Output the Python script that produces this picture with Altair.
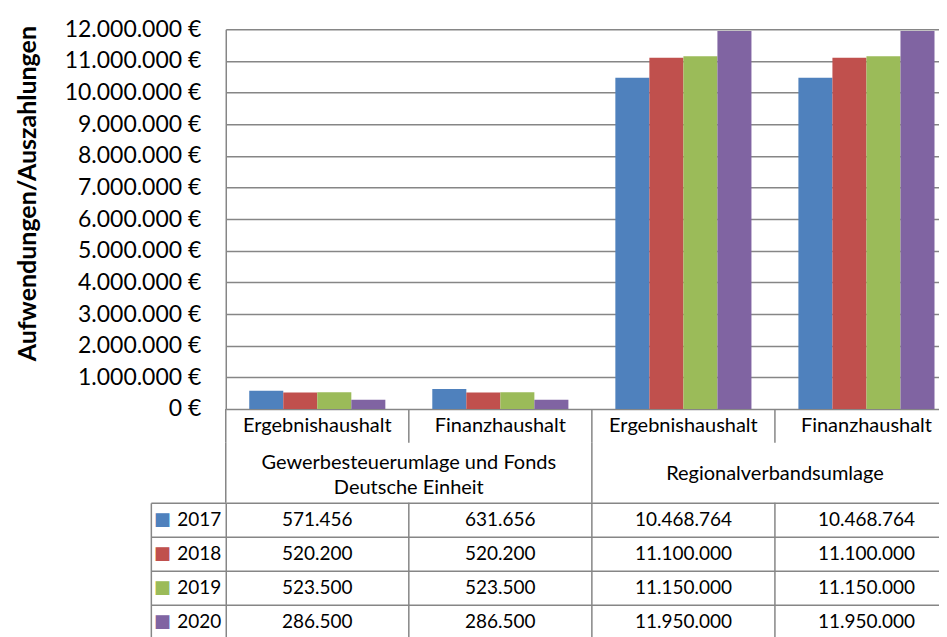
import altair as alt
import pandas as pd

# ---- data ----
col_ids = ["c1", "c2", "c3", "c4"]
col_names = ["Ergebnishaushalt", "Finanzhaushalt", "Ergebnishaushalt", "Finanzhaushalt"]
group_first_col = ["c1", "c3"]
group_names = ["Gewerbesteuerumlage und Fonds\nDeutsche Einheit", "Regionalverbandsumlage"]
years = ["2017", "2018", "2019", "2020"]
v2017 = [571456, 631656, 10468764, 10468764]
v2018 = [520200, 520200, 11100000, 11100000]
v2019 = [523500, 523500, 11150000, 11150000]
v2020 = [286500, 286500, 11950000, 11950000]
colors = ["#4F81BD", "#C0504D", "#9BBB59", "#8064A2"]
y_ticks = [0, 1000000, 2000000, 3000000, 4000000, 5000000, 6000000,
           7000000, 8000000, 9000000, 10000000, 11000000, 12000000]

series = {"2017": v2017, "2018": v2018, "2019": v2019, "2020": v2020}
rows = []
for y in years:
    for c, v in zip(col_ids, series[y]):
        rows.append({"col": c, "year": y, "value": v,
                     "label": f"{v:,}".replace(",", ".")})
df = pd.DataFrame(rows)
labels_df = pd.DataFrame({"col": col_ids, "name": col_names})
grp_df = pd.DataFrame({"col": group_first_col, "name": group_names})
inner_df = pd.DataFrame({"col": col_ids[1:]})

GRID = "#868686"
FONT = "Lato"
W = 713          # visible plot width (page is cut at the right like the original)
FULL = 733       # full width of the four columns
LW = 1.5

xs = alt.Scale(domain=col_ids, paddingInner=0, paddingOuter=0, range=[0, FULL])

bars = alt.Chart(df).mark_bar().encode(
    x=alt.X("col:N", scale=xs, axis=None),
    xOffset=alt.XOffset("year:N", scale=alt.Scale(domain=years, paddingInner=0, paddingOuter=0.69)),
    y=alt.Y("value:Q",
            scale=alt.Scale(domain=[0, 12000000], nice=False),
            axis=alt.Axis(values=y_ticks,
                          labelExpr="replace(format(datum.value, ',d'), regexp(',', 'g'), '.') + ' €'",
                          title="Aufwendungen/Auszahlungen", titleFont=FONT, titleFontSize=25,
                          titleFontWeight="bold", titleColor="black", titlePadding=24, titleY=164,
                          labelFont=FONT, labelFontSize=23, labelColor="black", labelPadding=25,
                          ticks=False, domain=True, domainColor=GRID, domainWidth=LW,
                          grid=True, gridColor=GRID, gridWidth=LW)),
    color=alt.Color("year:N", scale=alt.Scale(domain=years, range=colors), legend=None),
).properties(width=W, height=380)

lab_text = alt.Chart(labels_df).mark_text(font=FONT, fontSize=20, color="black").encode(
    x=alt.X("col:N", scale=xs, axis=None), text="name:N")
lab_rules = alt.Chart(labels_df).mark_rule(color=GRID, strokeWidth=LW).encode(
    x=alt.X("col:N", scale=xs, axis=None, bandPosition=0))
lab = alt.layer(lab_rules, lab_text).properties(width=W, height=34)

grp_text2 = alt.Chart(grp_df).transform_filter(alt.datum.col == group_first_col[0]).mark_text(
    font=FONT, fontSize=20, color="black", lineBreak="\n", lineHeight=25, dy=-10).encode(
    x=alt.X("col:N", scale=xs, axis=None, bandPosition=1), text="name:N")
grp_text1 = alt.Chart(grp_df).transform_filter(alt.datum.col == group_first_col[1]).mark_text(
    font=FONT, fontSize=20, color="black", dy=1).encode(
    x=alt.X("col:N", scale=xs, axis=None, bandPosition=1), text="name:N")
grp_rules = alt.Chart(grp_df).mark_rule(color=GRID, strokeWidth=LW).encode(
    x=alt.X("col:N", scale=xs, axis=None, bandPosition=0))
grp = alt.layer(grp_rules, grp_text2, grp_text1).properties(width=W, height=60)

ys = alt.Scale(domain=years, paddingInner=0, paddingOuter=0)
cells = alt.Chart(df).mark_text(font=FONT, fontSize=19, color="black").encode(
    x=alt.X("col:N", scale=xs, axis=None),
    y=alt.Y("year:N", scale=ys,
            axis=alt.Axis(title=None, orient="left", tickBand="extent", tickSize=75,
                          tickColor=GRID, tickWidth=LW, domainColor=GRID, domainWidth=LW,
                          grid=True, gridColor=GRID, gridWidth=LW,
                          labelAlign="left", labelPadding=-26, labelFont=FONT,
                          labelFontSize=19, labelColor="black")),
    text="label:N")
label_color = {"condition": [{"test": f"datum.value === '{y}'", "value": c}
                             for y, c in zip(years, colors)], "value": "black"}
swatch = alt.Chart(df).mark_tick(opacity=0).encode(
    y=alt.Y("year:N", scale=ys,
            axis=alt.Axis(title=None, orient="left", offset=75, ticks=False,
                          domainColor=GRID, domainWidth=LW, grid=False,
                          labelExpr="'■'", labelColor=label_color,
                          labelFont="DejaVu Sans", labelFontSize=18,
                          labelPadding=-20, labelAlign="right")))
vrules = alt.Chart(inner_df).mark_rule(color=GRID, strokeWidth=LW).encode(
    x=alt.X("col:N", scale=xs, axis=None, bandPosition=0))
table = alt.layer(cells, swatch, vrules).resolve_scale(y="independent").properties(width=W, height=136)

chart = alt.vconcat(bars, lab, grp, table, spacing=0, bounds="flush").configure(
    padding={"left": 6, "top": 9, "right": 0, "bottom": 0}, font=FONT
).configure_view(stroke="transparent")

chart.save("out.html", embed_options={"renderer": "svg", "actions": False})
